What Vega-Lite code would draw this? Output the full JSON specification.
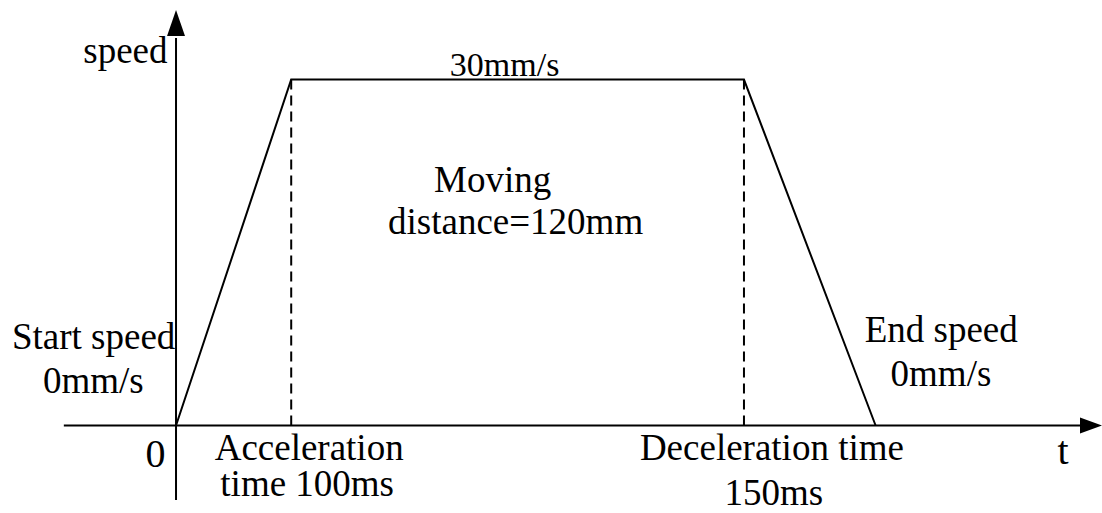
{
  "$schema": "https://vega.github.io/schema/vega-lite/v6.json",
  "autosize": {"type": "fit", "contains": "padding"},
  "width": 1102,
  "height": 513,
  "padding": 0,
  "background": "white",
  "config": {"view": {"stroke": null}},
  "datasets": {
    "profile": [
      {"t": 0, "v": 0},
      {"t": 115.5, "v": 30},
      {"t": 569.5, "v": 30},
      {"t": 701.5, "v": 0}
    ],
    "dashes": [
      {"t": 115.5, "v0": 0, "v1": 30},
      {"t": 569.5, "v0": 0, "v1": 30}
    ],
    "xaxis": [{"t0": -112.5, "t1": 912, "v": 0}],
    "yaxis": [{"t": 0, "v0": -6.47, "v1": 33.6}],
    "xarrow": [{"t": 917.5, "v": 0}],
    "yarrow": [{"t": 0, "v": 34.91}],
    "centerText": [
      {"label": "Moving", "t": 317.5, "v": 20.26},
      {"label": "distance=120mm", "t": 340.5, "v": 16.64},
      {"label": "Acceleration", "t": 133.5, "v": -3.02},
      {"label": "time 100ms", "t": 131.5, "v": -6.1},
      {"label": "Deceleration time", "t": 597.5, "v": -3.02},
      {"label": "150ms", "t": 599.5, "v": -6.9}
    ],
    "leftText": [
      {"label": "Start speed", "t": -164.5, "v": 6.64},
      {"label": "0mm/s", "t": -133.5, "v": 2.84},
      {"label": "End speed", "t": 690.5, "v": 7.24},
      {"label": "0mm/s", "t": 716.5, "v": 3.45}
    ],
    "rightText": [
      {"label": "speed", "t": -8.5, "v": 31.47}
    ],
    "thinText": [
      {"label": "30mm/s", "t": 329.5, "v": 30.34}
    ],
    "bigText": [
      {"label": "0", "t": -20.5, "v": -3.62},
      {"label": "t", "t": 889.5, "v": -3.36}
    ]
  },
  "encoding": {
    "x": {"type": "quantitative", "scale": {"domain": [-176.5, 925.5], "nice": false, "zero": false}, "axis": null},
    "y": {"type": "quantitative", "scale": {"domain": [-7.328, 36.897], "nice": false, "zero": false}, "axis": null}
  },
  "layer": [
    {
      "data": {"name": "xaxis"},
      "mark": {"type": "rule", "color": "black", "strokeWidth": 2},
      "encoding": {
        "x": {"field": "t0", "type": "quantitative"},
        "x2": {"field": "t1"},
        "y": {"field": "v", "type": "quantitative"}
      }
    },
    {
      "data": {"name": "yaxis"},
      "mark": {"type": "rule", "color": "black", "strokeWidth": 2},
      "encoding": {
        "x": {"field": "t", "type": "quantitative"},
        "y": {"field": "v0", "type": "quantitative"},
        "y2": {"field": "v1"}
      }
    },
    {
      "data": {"name": "xarrow"},
      "mark": {"type": "point", "filled": true, "color": "black", "opacity": 1, "size": 484, "shape": "M1,0 L-1,0.73 L-1,-0.73 Z"},
      "encoding": {
        "x": {"field": "t", "type": "quantitative"},
        "y": {"field": "v", "type": "quantitative"}
      }
    },
    {
      "data": {"name": "yarrow"},
      "mark": {"type": "point", "filled": true, "color": "black", "opacity": 1, "size": 676, "shape": "M0,-1 L0.69,1 L-0.69,1 Z"},
      "encoding": {
        "x": {"field": "t", "type": "quantitative"},
        "y": {"field": "v", "type": "quantitative"}
      }
    },
    {
      "data": {"name": "dashes"},
      "mark": {"type": "rule", "color": "black", "strokeWidth": 2, "strokeDash": [10, 6]},
      "encoding": {
        "x": {"field": "t", "type": "quantitative"},
        "y": {"field": "v0", "type": "quantitative"},
        "y2": {"field": "v1"}
      }
    },
    {
      "data": {"name": "profile"},
      "mark": {"type": "line", "color": "black", "strokeWidth": 2},
      "encoding": {
        "x": {"field": "t", "type": "quantitative"},
        "y": {"field": "v", "type": "quantitative"},
        "order": {"field": "t", "type": "quantitative"}
      }
    },
    {
      "data": {"name": "centerText"},
      "mark": {"type": "text", "font": "Liberation Serif", "fontSize": 37, "align": "center", "baseline": "alphabetic", "color": "black"},
      "encoding": {
        "x": {"field": "t", "type": "quantitative"},
        "y": {"field": "v", "type": "quantitative"},
        "text": {"field": "label"}
      }
    },
    {
      "data": {"name": "leftText"},
      "mark": {"type": "text", "font": "Liberation Serif", "fontSize": 37, "align": "left", "baseline": "alphabetic", "color": "black"},
      "encoding": {
        "x": {"field": "t", "type": "quantitative"},
        "y": {"field": "v", "type": "quantitative"},
        "text": {"field": "label"}
      }
    },
    {
      "data": {"name": "rightText"},
      "mark": {"type": "text", "font": "Liberation Serif", "fontSize": 37, "align": "right", "baseline": "alphabetic", "color": "black"},
      "encoding": {
        "x": {"field": "t", "type": "quantitative"},
        "y": {"field": "v", "type": "quantitative"},
        "text": {"field": "label"}
      }
    },
    {
      "data": {"name": "thinText"},
      "mark": {"type": "text", "font": "Liberation Serif", "fontSize": 34, "align": "center", "baseline": "alphabetic", "color": "black"},
      "encoding": {
        "x": {"field": "t", "type": "quantitative"},
        "y": {"field": "v", "type": "quantitative"},
        "text": {"field": "label"}
      }
    },
    {
      "data": {"name": "bigText"},
      "mark": {"type": "text", "font": "Liberation Serif", "fontSize": 40, "align": "center", "baseline": "alphabetic", "color": "black"},
      "encoding": {
        "x": {"field": "t", "type": "quantitative"},
        "y": {"field": "v", "type": "quantitative"},
        "text": {"field": "label"}
      }
    }
  ]
}
